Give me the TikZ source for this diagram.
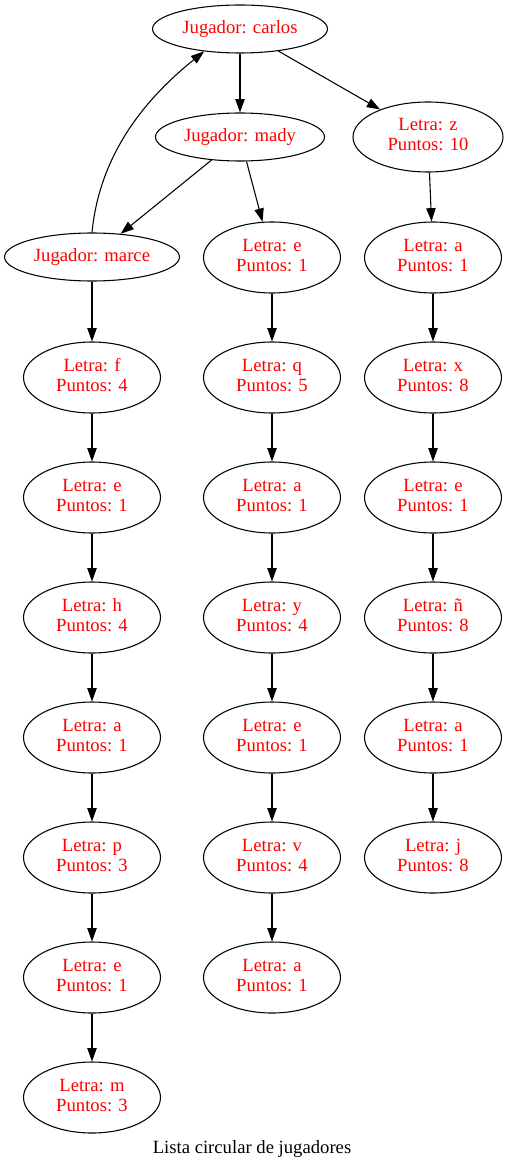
\documentclass[tikz,border=0pt]{standalone}
\usepackage{fontspec}
\setmainfont{Liberation Serif}
\usetikzlibrary{shapes.geometric,arrows.meta}
\newcommand\mytx[1]{\makebox[0pt]{#1}}
\newcommand\mytwo[2]{\makebox[0pt]{\begin{tabular}{@{}c@{}}#1\\#2\end{tabular}}}
\begin{document}
\begin{tikzpicture}[x=0.75pt,y=-0.75pt,
  base/.style={ellipse,draw,line width=0.8pt,inner sep=0pt,text=red,
    font=\fontsize{14pt}{15pt}\selectfont},
  jug/.style={base,minimum height=36pt},
  let/.style={base,minimum width=102.75pt,minimum height=53.25pt},
  arr/.style={line width=0.8pt,-{Triangle[length=10pt,width=7pt]}}]
\useasboundingbox (0,0) rectangle (508,1169);
% top
\node[jug,minimum width=131.25pt] (carlos) at (240,29) {\mytx{Jugador: carlos}};
\node[jug,minimum width=126.75pt] (mady) at (240,137) {\mytx{Jugador: mady}};
\node[jug,minimum width=131.25pt] (marce) at (92,257) {\mytx{Jugador: marce}};
\node[let,minimum width=112.5pt,minimum height=52.5pt] (z) at (428,137) {\mytwo{Letra: z}{Puntos: 10}};
% left column
\node[let] (l1) at (92,377.5) {\mytwo{Letra: f}{Puntos: 4}};
\node[let] (l2) at (92,497.5) {\mytwo{Letra: e}{Puntos: 1}};
\node[let] (l3) at (92,617.5) {\mytwo{Letra: h}{Puntos: 4}};
\node[let] (l4) at (92,737.5) {\mytwo{Letra: a}{Puntos: 1}};
\node[let] (l5) at (92,857.5) {\mytwo{Letra: p}{Puntos: 3}};
\node[let] (l6) at (92,977.5) {\mytwo{Letra: e}{Puntos: 1}};
\node[let] (l7) at (92,1097.5) {\mytwo{Letra: m}{Puntos: 3}};
% middle column
\node[let] (m1) at (272,257.5) {\mytwo{Letra: e}{Puntos: 1}};
\node[let] (m2) at (272,377.5) {\mytwo{Letra: q}{Puntos: 5}};
\node[let] (m3) at (272,497.5) {\mytwo{Letra: a}{Puntos: 1}};
\node[let] (m4) at (272,617.5) {\mytwo{Letra: y}{Puntos: 4}};
\node[let] (m5) at (272,737.5) {\mytwo{Letra: e}{Puntos: 1}};
\node[let] (m6) at (272,857.5) {\mytwo{Letra: v}{Puntos: 4}};
\node[let] (m7) at (272,977.5) {\mytwo{Letra: a}{Puntos: 1}};
% right column
\node[let] (r1) at (433,257.5) {\mytwo{Letra: a}{Puntos: 1}};
\node[let] (r2) at (433,377.5) {\mytwo{Letra: x}{Puntos: 8}};
\node[let] (r3) at (433,497.5) {\mytwo{Letra: e}{Puntos: 1}};
\node[let] (r4) at (433,617.5) {\mytwo{Letra: ñ}{Puntos: 8}};
\node[let] (r5) at (433,737.5) {\mytwo{Letra: a}{Puntos: 1}};
\node[let] (r6) at (433,857.5) {\mytwo{Letra: j}{Puntos: 8}};
% caption
\node[font=\fontsize{14pt}{15pt}\selectfont] (cap) at (252,1149) {Lista circular de jugadores};
% edges
\draw[arr] (carlos) -- (mady);
\draw[arr] (carlos) -- (z);
\draw[arr] (mady) -- (marce);
\draw[arr] (mady) -- (m1);
\draw[arr] (marce.north) .. controls (100,150) and (150,95) .. (carlos.212);
\draw[arr] (marce) -- (l1);
\draw[arr] (l1) -- (l2);
\draw[arr] (l2) -- (l3);
\draw[arr] (l3) -- (l4);
\draw[arr] (l4) -- (l5);
\draw[arr] (l5) -- (l6);
\draw[arr] (l6) -- (l7);
\draw[arr] (m1) -- (m2);
\draw[arr] (m2) -- (m3);
\draw[arr] (m3) -- (m4);
\draw[arr] (m4) -- (m5);
\draw[arr] (m5) -- (m6);
\draw[arr] (m6) -- (m7);
\draw[arr] (z) -- (r1);
\draw[arr] (r1) -- (r2);
\draw[arr] (r2) -- (r3);
\draw[arr] (r3) -- (r4);
\draw[arr] (r4) -- (r5);
\draw[arr] (r5) -- (r6);
\end{tikzpicture}
\end{document}
